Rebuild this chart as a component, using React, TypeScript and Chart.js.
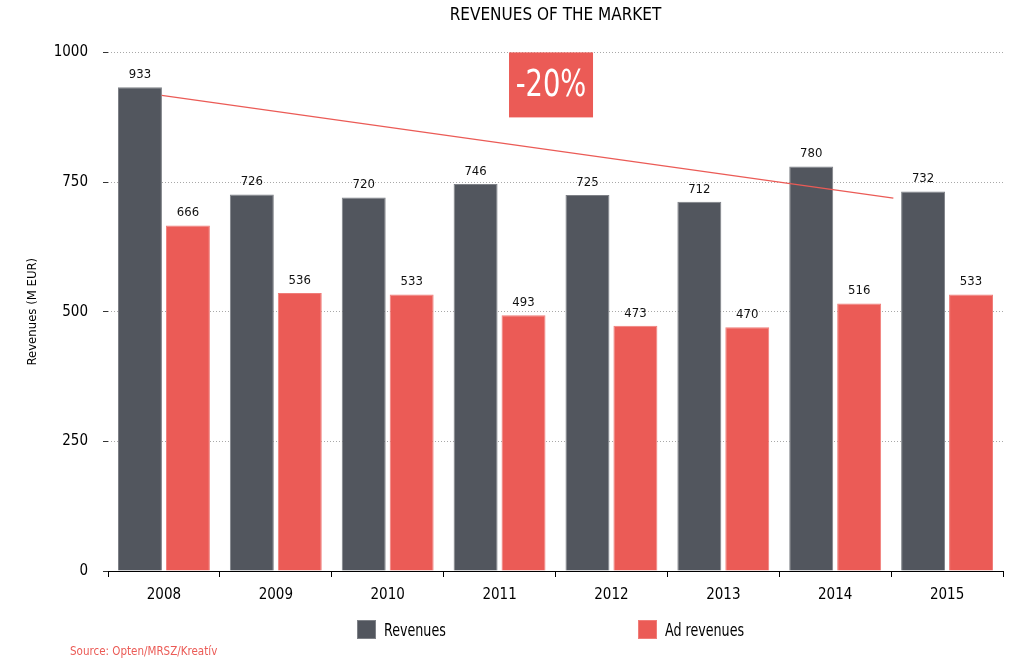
import React, { useEffect, useRef } from 'react';
import { Chart, registerables } from 'chart.js';

Chart.register(...registerables);

const years = ['2008', '2009', '2010', '2011', '2012', '2013', '2014', '2015'];
const revenues = [933, 726, 720, 746, 725, 712, 780, 732];
const adRevenues = [666, 536, 533, 493, 473, 470, 516, 533];
const trendX = [-0.02, 6.52];
const trendY = [917, 719];
const changeLabel = '-20%';
const changeAt = [3.46, 1000];
const titleText = 'REVENUES OF THE MARKET';
const yTitle = 'Revenues (M EUR)';
const sourceText = 'Source: Opten/MRSZ/Kreatív';
const seriesLabels = ['Revenues', 'Ad revenues'];

const DARK = '#52565E';
const RED = '#EB5B56';
const DARK_EDGE = '#7E8187';
const RED_EDGE = '#F07D79';
const FONT = "'DejaVu Sans Condensed', 'Liberation Sans Narrow', 'Roboto', sans-serif";

const overlayPlugin = {
  id: 'overlay',
  afterDatasetsDraw(chart: any) {
    const ctx = chart.ctx;
    const xs = chart.scales.x;
    const ys = chart.scales.y;
    ctx.save();
    // trend line
    ctx.strokeStyle = RED;
    ctx.lineWidth = 1.2;
    ctx.beginPath();
    trendX.forEach((x, i) => {
      const px = xs.getPixelForValue(x);
      const py = ys.getPixelForValue(trendY[i]);
      if (i === 0) ctx.moveTo(px, py);
      else ctx.lineTo(px, py);
    });
    ctx.stroke();
    // value labels
    ctx.font = `13px ${FONT}`;
    ctx.fillStyle = '#111';
    ctx.textAlign = 'center';
    ctx.textBaseline = 'bottom';
    [0, 1].forEach((i) => {
      const meta = chart.getDatasetMeta(i);
      meta.data.forEach((bar: any, j: number) => {
        ctx.fillText(String(chart.data.datasets[i].data[j]), bar.x, bar.y - 6);
      });
    });
    // change box
    const cx = xs.getPixelForValue(changeAt[0]);
    const top = ys.getPixelForValue(changeAt[1]);
    const w = 84;
    const h = 65;
    ctx.fillStyle = RED;
    ctx.fillRect(cx - w / 2, top, w, h);
    ctx.fillStyle = '#fff';
    ctx.font = `38px ${FONT}`;
    ctx.textBaseline = 'middle';
    ctx.translate(cx, top + h / 2 + 1);
    ctx.scale(0.8, 1);
    ctx.fillText(changeLabel, 0, 0);
    ctx.restore();
  },
};

export default function App() {
  const ref = useRef<HTMLCanvasElement>(null);
  useEffect(() => {
    if (!ref.current) return;
    const chart = new Chart(ref.current, {
      type: 'bar',
      data: {
        labels: years,
        datasets: [
          {
            label: seriesLabels[0],
            data: revenues,
            backgroundColor: DARK,
            borderColor: DARK_EDGE,
            borderWidth: 1,
          },
          {
            label: seriesLabels[1],
            data: adRevenues,
            backgroundColor: RED,
            borderColor: RED_EDGE,
            borderWidth: 1,
          },
        ],
      },
      options: {
        animation: false,
        responsive: true,
        maintainAspectRatio: false,
        categoryPercentage: 0.857,
        barPercentage: 0.917,
        layout: { padding: { left: 8, right: 30, top: 0, bottom: 57 } },
        plugins: {
          legend: { display: false },
          tooltip: { enabled: false },
          title: {
            display: true,
            text: titleText,
            fullSize: false,
            color: '#000',
            font: { family: FONT, size: 17, weight: 'normal' },
            padding: { top: 5, bottom: 27 },
          },
        },
        scales: {
          x: {
            type: 'category',
            offset: true,
            grid: {
              offset: true,
              drawOnChartArea: false,
              drawTicks: true,
              tickLength: 6,
              tickColor: '#000',
              color: '#000',
            },
            border: { display: true, color: '#000', width: 1 },
            ticks: {
              color: '#000',
              padding: 9,
              font: { family: FONT, size: 15 },
              maxRotation: 0,
            },
            afterFit(scale: any) {
              scale.height = 40;
            },
          },
          y: {
            min: 0,
            max: 1000,
            ticks: {
              stepSize: 250,
              color: '#000',
              padding: 15,
              font: { family: FONT, size: 15 },
              callback: (v: any) => String(v),
            },
            grid: {
              color: '#A8A8A8',
              lineWidth: 1,
              drawTicks: true,
              tickLength: 5,
              tickColor: '#333',
              tickBorderDash: [],
            },
            border: { display: false, dash: [1, 2] },
            title: {
              display: true,
              text: yTitle,
              color: '#000',
              font: { family: FONT, size: 13 },
              padding: { top: 17, bottom: 0 },
            },
            afterFit(scale: any) {
              scale.width = 100;
            },
          },
        },
      } as any,
      plugins: [overlayPlugin],
    });
    return () => chart.destroy();
  }, []);

  const legendItem = (left: number, color: string, edge: string, text: string) => (
    <div style={{ position: 'absolute', left, top: 620, height: 19, display: 'flex', alignItems: 'center' }}>
      <div style={{ width: 17, height: 17, background: color, border: `1px solid ${edge}` }} />
      <span
        style={{
          marginLeft: 8,
          fontFamily: FONT,
          fontSize: 17,
          color: '#000',
          display: 'inline-block',
          transform: 'scaleX(0.83)',
          transformOrigin: 'left center',
          whiteSpace: 'nowrap',
        }}
      >
        {text}
      </span>
    </div>
  );

  return (
    <div style={{ position: 'absolute', left: 0, top: 0, width: 1033, height: 668, background: '#fff' }}>
      <canvas ref={ref} />
      {legendItem(357, DARK, DARK_EDGE, seriesLabels[0])}
      {legendItem(638, RED, RED_EDGE, seriesLabels[1])}
      <div style={{ position: 'absolute', left: 70, top: 644, fontFamily: FONT, fontSize: 11.5, color: RED }}>
        {sourceText}
      </div>
    </div>
  );
}
